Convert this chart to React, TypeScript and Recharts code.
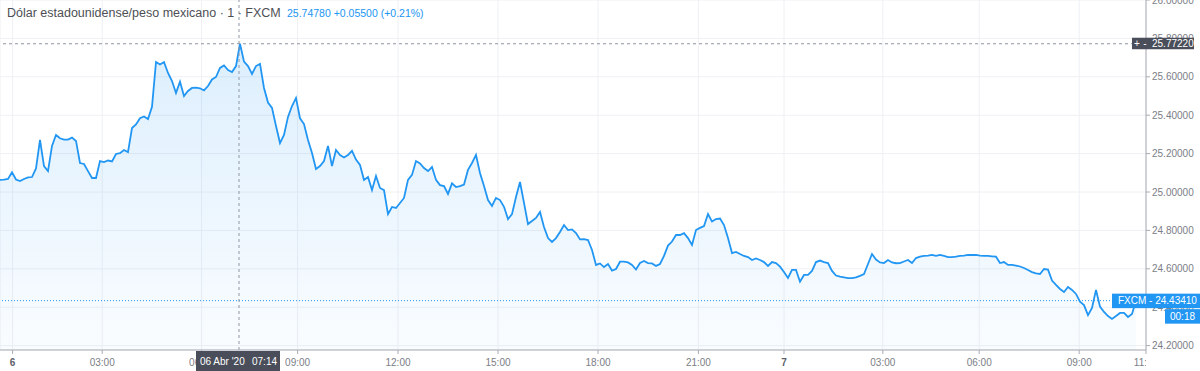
import React, { createContext, useContext, useState } from 'react';
import { createPortal } from 'react-dom';
import { AreaChart, Area, XAxis, YAxis, CartesianGrid, ReferenceLine } from 'recharts';

// ---- data (one value per bar slot) ----
const prices: number[] = [
  25.063, 25.065, 25.068, 25.103, 25.065, 25.057, 25.068, 25.076, 25.078, 25.123,
  25.271, 25.135, 25.109, 25.240, 25.297, 25.280, 25.273, 25.273, 25.283, 25.266,
  25.151, 25.146, 25.109, 25.073, 25.073, 25.161, 25.156, 25.164, 25.159, 25.198,
  25.202, 25.219, 25.208, 25.333, 25.352, 25.384, 25.393, 25.380, 25.444, 25.677,
  25.664, 25.677, 25.620, 25.578, 25.516, 25.574, 25.500, 25.526, 25.542, 25.544,
  25.540, 25.529, 25.552, 25.586, 25.599, 25.646, 25.659, 25.635, 25.625, 25.656,
  25.772, 25.679, 25.656, 25.615, 25.656, 25.667, 25.542, 25.466, 25.438, 25.344,
  25.255, 25.297, 25.391, 25.448, 25.490, 25.384, 25.354, 25.271, 25.203, 25.120,
  25.135, 25.161, 25.240, 25.135, 25.219, 25.193, 25.180, 25.193, 25.214, 25.169,
  25.141, 25.063, 25.078, 25.010, 25.083, 25.021, 25.010, 24.885, 24.922, 24.917,
  24.943, 24.969, 25.063, 25.089, 25.161, 25.149, 25.125, 25.109, 25.130, 25.063,
  25.036, 25.031, 24.990, 25.045, 25.026, 25.031, 25.039, 25.115, 25.151, 25.193,
  25.099, 25.031, 24.958, 24.927, 24.969, 24.958, 24.923, 24.859, 24.885, 24.974,
  25.052, 24.943, 24.833, 24.849, 24.865, 24.896, 24.818, 24.760, 24.740, 24.760,
  24.792, 24.828, 24.802, 24.805, 24.786, 24.753, 24.755, 24.750, 24.698, 24.620,
  24.628, 24.609, 24.625, 24.591, 24.599, 24.637, 24.637, 24.633, 24.620, 24.596,
  24.630, 24.641, 24.630, 24.628, 24.615, 24.625, 24.667, 24.721, 24.742, 24.776,
  24.776, 24.786, 24.760, 24.724, 24.802, 24.813, 24.823, 24.885, 24.846, 24.859,
  24.862, 24.828, 24.760, 24.682, 24.688, 24.677, 24.667, 24.661, 24.646, 24.654,
  24.646, 24.635, 24.615, 24.635, 24.630, 24.611, 24.583, 24.552, 24.594, 24.594,
  24.533, 24.568, 24.568, 24.589, 24.635, 24.643, 24.635, 24.630, 24.589, 24.565,
  24.559, 24.555, 24.551, 24.551, 24.555, 24.563, 24.573, 24.625, 24.677, 24.648,
  24.633, 24.630, 24.646, 24.633, 24.629, 24.630, 24.638, 24.646, 24.630, 24.656,
  24.663, 24.667, 24.669, 24.672, 24.667, 24.672, 24.667, 24.661, 24.661, 24.663,
  24.667, 24.669, 24.672, 24.672, 24.672, 24.669, 24.667, 24.667, 24.665, 24.663,
  24.630, 24.635, 24.620, 24.620, 24.617, 24.612, 24.604, 24.594, 24.583, 24.576,
  24.573, 24.599, 24.596, 24.539, 24.516, 24.495, 24.479, 24.505, 24.490, 24.469,
  24.429, 24.411, 24.359, 24.396, 24.490, 24.403, 24.375, 24.354, 24.339, 24.354,
  24.370, 24.370, 24.349, 24.365, 24.434,
];

// time-axis ticks, expressed as bar positions, and their labels
const timeTicks: number[] = [3.15, 25.55, 50.4, 74.4, 99.5, 124.5, 149.5, 174.6, 196, 220.7, 244.8, 269.8, 286.5];
const timeLabels: string[] = ['6', '03:00', '06:00', '09:00', '12:00', '15:00', '18:00', '21:00', '7', '03:00', '06:00', '09:00', '11:00'];
const dayLabels: string[] = ['6', '7'];
const barDomain: number[] = [0, 286.5];

const priceTicks: number[] = [24.2, 24.4, 24.6, 24.8, 25.0, 25.2, 25.4, 25.6, 25.8, 26.0];
const priceDomain: number[] = [24.1771, 26.0];

const title = 'Dólar estadounidense/peso mexicano · 1 · FXCM';
const quote = '25.74780 +0.05500 (+0.21%)';
const seriesName = 'FXCM';
const lastPrice = 24.4341;
const countdown = '00:18';
const crosshairBar = 59.75;
const crosshairPrice = 25.7722;
const crosshairDate = "06 Abr '20";
const crosshairTime = '07:14';

// ---- layout / style ----
const W = 1200;
const H = 371;
const Y_AXIS_W = 54;
const X_AXIS_H = 21;
const PLOT_RIGHT = W - Y_AXIS_W;
const PLOT_BOTTOM = H - X_AXIS_H;
const FONT = '"Liberation Sans", Arial, sans-serif';
const BLUE = '#2196f3';
const TEXT = '#7b7e86';
const AXIS = '#a9acb4';
const GRID = '#eef0f4';
const DARK = '#4a4e5a';
const CROSS = '#8f96a3';

const data = prices.map((p, i) => ({ i, p }));

// overlay layer so the price / time labels sit above the axis texts
const OverlayCtx = createContext<SVGSVGElement | null>(null);
const OnTop = ({ children }: { children: React.ReactNode }) => {
  const el = useContext(OverlayCtx);
  return el ? createPortal(children, el) : null;
};

const XTick = (props: any) => {
  const { x, y, payload } = props;
  let idx = 0;
  let best = Infinity;
  timeTicks.forEach((t, k) => {
    const d = Math.abs(t - payload.value);
    if (d < best) { best = d; idx = k; }
  });
  const label = timeLabels[idx];
  const bold = dayLabels.includes(label);
  return (
    <g>
      <defs>
        <clipPath id={`xclip${idx}`}>
          <rect x={0} y={PLOT_BOTTOM} width={PLOT_RIGHT} height={X_AXIS_H} />
        </clipPath>
      </defs>
      <text
        x={x}
        y={y}
        dy="0.71em"
        textAnchor="middle"
        fontSize={10}
        fontFamily={FONT}
        fontWeight={bold ? 700 : 400}
        fill={bold ? '#5d6069' : TEXT}
        clipPath={`url(#xclip${idx})`}
      >
        {label}
      </text>
    </g>
  );
};

const PriceLabel = (props: any) => {
  const vb = props.viewBox || {};
  const right = vb.x + vb.width;
  const y = vb.y;
  return (
    <OnTop>
      <g>
        <rect x={right - 34} y={y - 7} width={W - (right - 34)} height={14.5} fill={BLUE} />
        <text x={right - 28} y={y} dominantBaseline="central" fontSize={10} fontFamily={FONT} fill="#ffffff">
          {`${seriesName} - ${lastPrice.toFixed(5)}`}
        </text>
        <rect x={right + 19} y={y + 8.5} width={W - (right + 19)} height={14.5} fill={BLUE} />
        <text x={(right + 19 + W) / 2} y={y + 15.8} dominantBaseline="central" textAnchor="middle" fontSize={10} fontFamily={FONT} fill="#ffffff">
          {countdown}
        </text>
      </g>
    </OnTop>
  );
};

const CrossPriceLabel = (props: any) => {
  const vb = props.viewBox || {};
  const right = vb.x + vb.width;
  const y = vb.y;
  return (
    <OnTop>
      <g>
        <rect x={right - 14} y={y - 6} width={62} height={11.5} fill={DARK} />
        <text x={right - 9} y={y} dominantBaseline="central" textAnchor="middle" fontSize={10} fontFamily={FONT} fill="#ffffff">+</text>
        <text x={right - 1} y={y} dominantBaseline="central" textAnchor="middle" fontSize={10} fontFamily={FONT} fill="#ffffff">-</text>
        <text x={right + 6} y={y} dominantBaseline="central" fontSize={10} fontFamily={FONT} fill="#ffffff">
          {crosshairPrice.toFixed(5)}
        </text>
      </g>
    </OnTop>
  );
};

const CrossTimeLabel = (props: any) => {
  const vb = props.viewBox || {};
  const x = vb.x;
  const bottom = vb.y + vb.height;
  return (
    <OnTop>
      <g>
        <rect x={x - 43} y={bottom + 1} width={84} height={H - bottom - 1} fill={DARK} />
        <text x={x - 39} y={bottom + 11} dominantBaseline="central" fontSize={10} fontFamily={FONT} fill="#ffffff">
          {crosshairDate}
        </text>
        <text x={x + 13} y={bottom + 11} dominantBaseline="central" fontSize={10} fontFamily={FONT} fill="#ffffff">
          {crosshairTime}
        </text>
      </g>
    </OnTop>
  );
};

export default function App() {
  const [overlay, setOverlay] = useState<SVGSVGElement | null>(null);
  return (
    <OverlayCtx.Provider value={overlay}>
      <div style={{ position: 'relative', width: W, height: H, background: '#ffffff', overflow: 'hidden' }}>
        <style>{'body{margin:0;}'}</style>
        <AreaChart width={W} height={H} data={data} margin={{ top: 0, right: 0, bottom: 0, left: 0 }}>
          <defs>
            <linearGradient id="areaFill" x1="0" y1="0" x2="0" y2="1">
              <stop offset="0%" stopColor={BLUE} stopOpacity={0.26} />
              <stop offset="100%" stopColor={BLUE} stopOpacity={0.04} />
            </linearGradient>
          </defs>
          <CartesianGrid stroke={GRID} strokeWidth={1} />
          <XAxis
            dataKey="i"
            type="number"
            domain={barDomain}
            ticks={timeTicks}
            interval={0}
            allowDataOverflow
            height={X_AXIS_H}
            tickSize={4}
            tickMargin={5}
            stroke={AXIS}
            tickLine={{ stroke: AXIS }}
            tick={(p: any) => <XTick {...p} />}
          />
          <YAxis
            orientation="right"
            type="number"
            domain={priceDomain}
            ticks={priceTicks}
            interval={0}
            allowDataOverflow
            width={Y_AXIS_W}
            tickSize={4}
            tickMargin={2}
            stroke={AXIS}
            tickLine={{ stroke: AXIS }}
            tick={{ fill: TEXT, fontSize: 10, fontFamily: FONT }}
            tickFormatter={(v: number) => v.toFixed(5)}
          />
          <Area
            type="linear"
            dataKey="p"
            stroke={BLUE}
            strokeWidth={1.8}
            fill="url(#areaFill)"
            dot={false}
            activeDot={false}
            isAnimationActive={false}
          />
          <ReferenceLine y={lastPrice} stroke={BLUE} strokeDasharray="1 2" strokeWidth={1} label={<PriceLabel />} />
          <ReferenceLine x={crosshairBar} stroke={CROSS} strokeDasharray="3 3" strokeWidth={1} label={<CrossTimeLabel />} />
          <ReferenceLine y={crosshairPrice} stroke={CROSS} strokeDasharray="3 3" strokeWidth={1} label={<CrossPriceLabel />} />
        </AreaChart>
        <svg
          ref={setOverlay}
          width={W}
          height={H}
          style={{ position: 'absolute', left: 0, top: 0, pointerEvents: 'none' }}
        >
          <text x={7} y={16.5} fontSize={12.5} fontFamily={FONT} fill="#4d4f55">{title}</text>
          <text x={287} y={16.5} fontSize={10.5} fontFamily={FONT} fill={BLUE}>{quote}</text>
        </svg>
      </div>
    </OverlayCtx.Provider>
  );
}
